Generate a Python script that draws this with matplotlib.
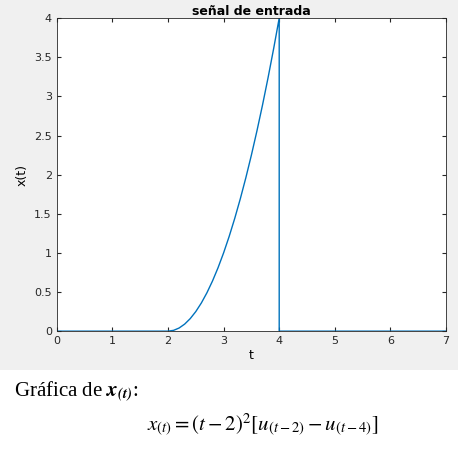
import matplotlib
matplotlib.use("Agg")
import matplotlib.pyplot as plt
from matplotlib.patches import Rectangle

# values (x(t) = (t-2)^2 on [2,4])
t = [0, 2.0, 2.1, 2.2, 2.3, 2.4, 2.5, 2.6, 2.7, 2.8, 2.9, 3.0, 3.1, 3.2, 3.3, 3.4, 3.5,
     3.6, 3.7, 3.8, 3.9, 4.0, 4.0, 7.0]
x = [0, 0.0, 0.01, 0.04, 0.09, 0.16, 0.25, 0.36, 0.49, 0.64, 0.81, 1.0, 1.21, 1.44, 1.69,
     1.96, 2.25, 2.56, 2.89, 3.24, 3.61, 4.0, 0.0, 0.0]
xticks = [0, 1, 2, 3, 4, 5, 6, 7]
yticks = [0, 0.5, 1, 1.5, 2, 2.5, 3, 3.5, 4]

plt.rcParams['mathtext.fontset'] = 'stix'
fig = plt.figure(figsize=(4.73, 4.53), dpi=100)
fig.patches.append(Rectangle((0, 0.183), 0.968, 0.817, transform=fig.transFigure,
                             facecolor='#f0f0f0', edgecolor='none', zorder=-1))

ax = fig.add_axes([0.12, 0.269, 0.823, 0.691])
ax.plot(t, x, color='#0072bd', linewidth=1)
ax.set_xlim(0, 7)
ax.set_ylim(0, 4)
ax.set_xticks(xticks)
ax.set_yticks(yticks)
ax.set_yticklabels([f"{v:g}" for v in yticks])
ax.tick_params(labelsize=8, direction='in', length=3, colors='#262626', top=True, right=True)
for s in ax.spines.values():
    s.set_color('#262626')
    s.set_linewidth(0.6)
ax.set_xlabel('t', fontsize=9, labelpad=2)
ax.set_ylabel('x(t)', fontsize=9, labelpad=4)
ax.set_title('señal de entrada', fontsize=9, fontweight='bold', pad=2)

fig.text(0.03, 0.135, r'Gráfica de $\mathbfit{x}_{\mathbfit{(t)}}$:', fontsize=15,
         family='Liberation Serif', va='center')
fig.text(0.31, 0.062, r'$x_{(t)}=(t-2)^2[u_{(t-2)}-u_{(t-4)}]$', fontsize=15, va='center')

fig.savefig('out.png', dpi=100)
